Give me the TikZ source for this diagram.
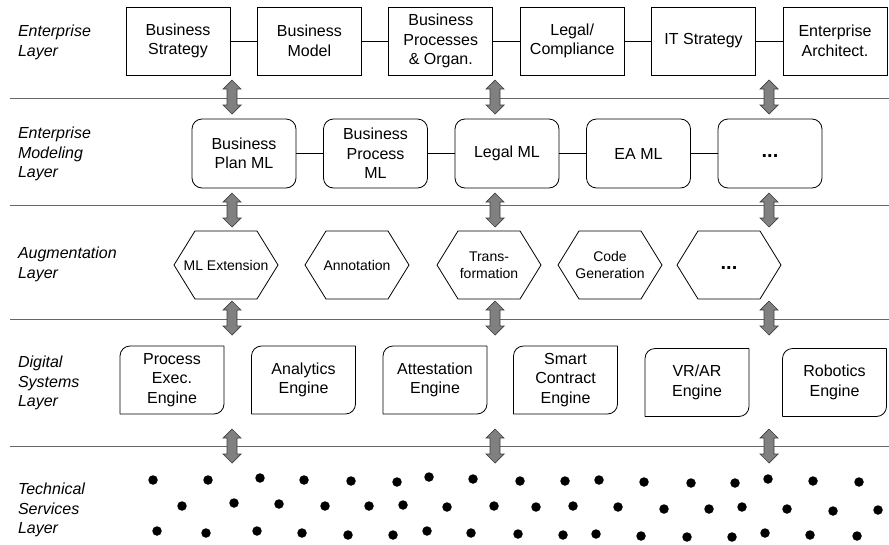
\documentclass[tikz,border=0pt]{standalone}
\usepackage{fontspec}
\setmainfont{Liberation Sans}
\usetikzlibrary{shapes}

\begin{document}
\begin{tikzpicture}[
    x=1pt, y=-1pt,
    boxWidth/.style={minimum width=104pt},
    boxHeight/.style={minimum height=68pt},
    every node/.style={
        align=center, inner sep=0pt, outer sep=0pt,
        font=\fontsize{16}{19.5}\selectfont
        },
    layerName/.style={anchor=west, align=left, font=\fontsize{16}{19.8}\selectfont\itshape},
    enterprise/.style={boxWidth, boxHeight, draw, line width=0.8pt},
    modeling/.style={boxWidth, minimum height=69pt, draw, line width=0.8pt, rounded corners=10pt},
    augment/.style={boxWidth, boxHeight, font=\fontsize{14}{17}\selectfont},
    engine/.style={boxWidth, boxHeight},
    updown/.style={minimum width=18pt, minimum height=34pt},
    service/.style={circle, fill=black, minimum size=9.5pt},
    sepLine/.style={draw=black!60, line width=1pt},
    more/.style={font=\fontsize{20}{20}\selectfont\bfseries}
        ]
    \useasboundingbox (0,0) rectangle (889,544);

    % layer names
    \node[layerName] (lEnt) at (18,42) {Enterprise\\Layer};
    \node[layerName] (lMod) at (18,154) {Enterprise\\Modeling\\Layer};
    \node[layerName] (lAug) at (18,264) {Augmentation\\Layer};
    \node[layerName] (lDig) at (18,383) {Digital\\Systems\\Layer};
    \node[layerName] (lTec) at (18,510) {Technical\\Services\\Layer};

    % separators
    \draw[sepLine] (10,98.5) -- (889,98.5);
    \draw[sepLine] (10,205.5) -- (889,205.5);
    \draw[sepLine] (10,319) -- (889,319);
    \draw[sepLine] (10,446.5) -- (889,446.5);

    % enterprise layer
    \node[enterprise] (bStrat) at (178,41) {Business\\Strategy};
    \node[enterprise, anchor=west, xshift=27.4pt] (bModel) at (bStrat.east) {Business\\Model};
    \node[enterprise, anchor=west, xshift=27.4pt] (bProc) at (bModel.east) {Business\\Processes\\\& Organ.};
    \node[enterprise, anchor=west, xshift=27.4pt] (legal) at (bProc.east) {Legal/\\Compliance};
    \node[enterprise, anchor=west, xshift=27.4pt] (itStrat) at (legal.east) {IT Strategy};
    \node[enterprise, anchor=west, xshift=27.4pt] (entArch) at (itStrat.east) {Enterprise\\Architect.};

    \draw (bStrat) -- (bModel);
    \draw (bModel) -- (bProc);
    \draw (bProc) -- (legal);
    \draw (legal) -- (itStrat);
    \draw (itStrat) -- (entArch);

    % enterprise modeling layer
    \node[modeling] (planML) at (244,153.5) {Business\\Plan ML};
    \node[modeling, anchor=west, xshift=27.5pt] (procML) at (planML.east) {Business\\Process\\ML};
    \node[modeling, anchor=west, xshift=27.5pt] (legalML) at (procML.east) {Legal ML};
    \node[modeling, anchor=west, xshift=27.5pt] (eaML) at (legalML.east) {EA ML};
    \node[modeling, anchor=west, xshift=27.5pt, more] (moreML) at (eaML.east) {\strut...};

    \draw (planML) -- (procML);
    \draw (procML) -- (legalML);
    \draw (legalML) -- (eaML);
    \draw (eaML) -- (moreML);

    % augmentation layer
    \node[augment] (mlExt) at (226,265) {ML Extension};
    \node[augment, anchor=west, xshift=27pt] (annot) at (mlExt.east) {Annotation};
    \node[augment, anchor=west, xshift=28pt] (transf) at (annot.east) {Trans-\\formation};
    \node[augment, anchor=west, xshift=17pt] (codeGen) at (transf.east) {Code\\Generation};
    \node[augment, anchor=west, xshift=15pt, more] (moreAug) at (codeGen.east) {\strut...};

    \foreach \h in {mlExt, annot, transf, codeGen, moreAug} {
        \draw[line width=0.8pt] (\h.west) -- ([xshift=21pt]\h.north west) -- ([xshift=-21pt]\h.north east)
            -- (\h.east) -- ([xshift=-21pt]\h.south east) -- ([xshift=21pt]\h.south west) -- cycle;
    }

    % digital systems layer
    \node[engine] (procEng) at (172,380) {Process\\Exec.\\Engine};
    \node[engine, anchor=west, xshift=27.5pt] (anaEng) at (procEng.east) {Analytics\\Engine};
    \node[engine, anchor=west, xshift=27.5pt] (attEng) at (anaEng.east) {Attestation\\Engine};
    \node[engine, anchor=west, xshift=26.5pt] (scEng) at (attEng.east) {Smart\\Contract\\Engine};
    \node[engine, anchor=west, xshift=27.5pt, yshift=-2.5pt] (vrEng) at (scEng.east) {VR/AR\\Engine};
    \node[engine, anchor=west, xshift=33.5pt] (robEng) at (vrEng.east) {Robotics\\Engine};

    \foreach \e in {procEng, anaEng, attEng, scEng, vrEng, robEng} {
        \draw[line width=0.8pt, rounded corners=10pt] (\e.south west) |- (\e.north east);
        \draw[line width=0.8pt, rounded corners=10pt] (\e.north east) |- (\e.south west);
    }

    % arrows between the layers
    \node[updown] (entModA) at (232,97) {};
    \node[updown] (entModB) at (495,97) {};
    \node[updown] (entModC) at (769,97) {};
    \node[updown] (modAugA) at (232,210) {};
    \node[updown] (modAugB) at (495,210) {};
    \node[updown] (modAugC) at (769,210) {};
    \node[updown] (augDigA) at (232,318) {};
    \node[updown] (augDigB) at (495,318) {};
    \node[updown] (augDigC) at (769,318) {};
    \node[updown] (digTecA) at (232,446) {};
    \node[updown] (digTecB) at (495,446) {};
    \node[updown] (digTecC) at (769,446) {};

    \foreach \a in {entModA, entModB, entModC, modAugA, modAugB, modAugC,
                    augDigA, augDigB, augDigC, digTecA, digTecB, digTecC} {
        \draw[fill=black!50, draw=black!75, line width=0.7pt] (\a.north) -- ++(9,9) -- ++(-4,0) -- ++(0,16)
            -- ++(4,0) -- (\a.south) -- ++(-9,-9) -- ++(4,0) -- ++(0,-16) -- ++(-4,0) -- cycle;
    }

    % technical services
    \foreach \x/\y [count=\i] in {
        153/480, 208/480, 260/478, 304/480, 351/481, 397/482, 429/477, 473/479, 520/481,
        565/481, 599/480, 644/482, 691/483, 735/483, 768/479, 813/481, 859/482,
        182/506, 234/503, 279/504, 325/506, 369/506, 403/505, 447/507, 494/506, 536/507,
        573/506, 618/507, 664/509, 709/509, 742/507, 787/509, 833/511, 878/510,
        157/531, 206/533, 257/531, 302/533, 348/535, 393/535, 427/531, 471/533, 518/534,
        563/535, 596/534, 641/536, 687/537, 732/537, 765/533, 810/535, 857/536} {
        \node[service] (srv\i) at (\x,\y) {};
    }
\end{tikzpicture}
\end{document}
